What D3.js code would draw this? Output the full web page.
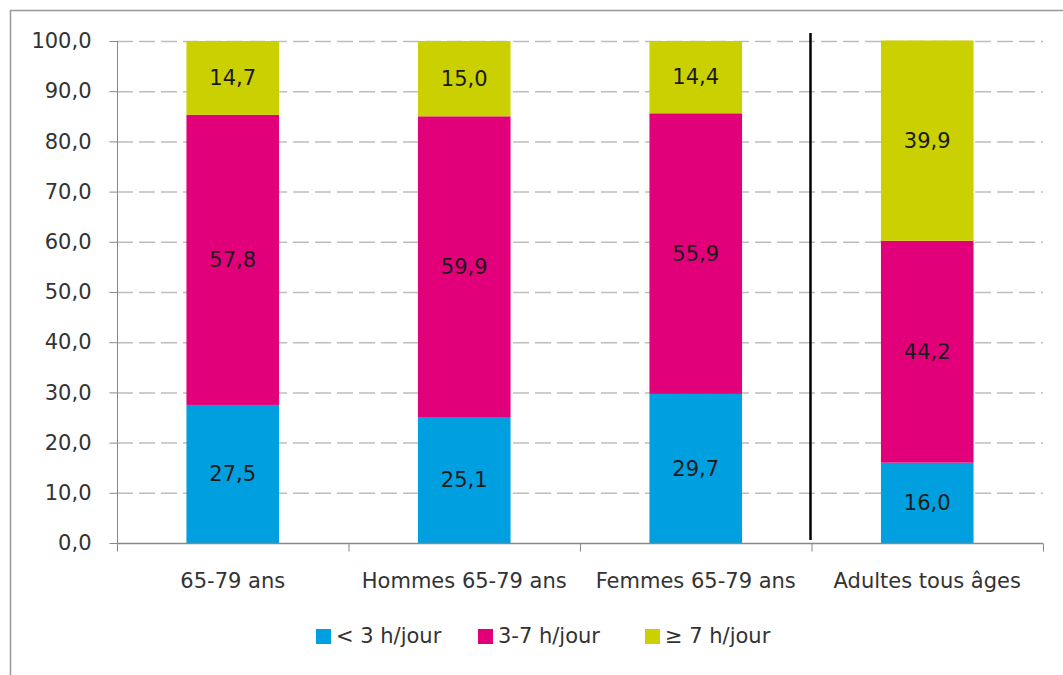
<!DOCTYPE html>
<html>
<head>
<meta charset="utf-8">
<script src="https://cdn.jsdelivr.net/npm/d3@7"></script>
<style>
  body { margin: 0; background: #fff; }
  svg text { font-family: "DejaVu Sans", sans-serif; fill: #333; }
</style>
</head>
<body>
<div id="chart"></div>
<script>
// data
let categories = ["65-79 ans", "Hommes 65-79 ans", "Femmes 65-79 ans", "Adultes tous âges"];
let seriesNames = ["< 3 h/jour", "3-7 h/jour", "≥ 7 h/jour"];
let lowValues = [27.5, 25.1, 29.7, 16.0];
let midValues = [57.8, 59.9, 55.9, 44.2];
let highValues = [14.7, 15.0, 14.4, 39.9];
let yTicks = [0, 10, 20, 30, 40, 50, 60, 70, 80, 90, 100];
let colors = ["#009fdf", "#e2007a", "#cbd000"];

let width = 1063, height = 675;
let margin = {top: 41, left: 117, right: 20, bottom: 132};
let fontSize = "21px";

let svg = d3.select("#chart").append("svg")
  .attr("width", width)
  .attr("height", height);

// outer frame (only top and left edges visible)
svg.append("path")
  .attr("d", "M10.5," + height + "V10.5H" + width)
  .attr("fill", "none")
  .attr("stroke", "#999")
  .attr("stroke-width", 1.5);

let x = d3.scaleBand().domain(categories)
  .range([margin.left, width - margin.right])
  .paddingInner(0.6).paddingOuter(0.3);
let band = d3.scaleBand().domain(categories).range([margin.left, width - margin.right]);
let y = d3.scaleLinear().domain([0, 100]).range([height - margin.bottom, margin.top]);

// dashed gridlines
svg.append("g").selectAll("line")
  .data(yTicks.filter(d => d > 0))
  .enter().append("line")
  .attr("x1", margin.left).attr("x2", width - margin.right)
  .attr("y1", d => y(d) + 0.5).attr("y2", d => y(d) + 0.5)
  .attr("stroke", "#bdbdbd")
  .attr("stroke-width", 1.5)
  .attr("stroke-dasharray", "16,6");

// stacked bars
let rows = categories.map((c, i) => ({cat: c, low: lowValues[i], mid: midValues[i], high: highValues[i]}));
let stack = d3.stack().keys(["low", "mid", "high"])(rows);

let layers = svg.append("g").selectAll("g")
  .data(stack).enter().append("g")
  .attr("fill", (d, i) => colors[i]);

layers.selectAll("rect")
  .data(d => d).enter().append("rect")
  .attr("x", d => x(d.data.cat))
  .attr("width", x.bandwidth())
  .attr("y", d => y(d[1]))
  .attr("height", d => y(d[0]) - y(d[1]));

layers.selectAll("text")
  .data(d => d).enter().append("text")
  .attr("x", d => x(d.data.cat) + x.bandwidth() / 2)
  .attr("y", d => (y(d[0]) + y(d[1])) / 2)
  .attr("dy", "0.35em")
  .attr("text-anchor", "middle")
  .style("font-size", fontSize)
  .style("fill", "#1a1a1a")
  .text(d => d3.format(".1f")(d[1] - d[0]).replace(".", ","));

// y axis
let yAxis = d3.axisLeft(y).tickValues(yTicks).tickSize(8).tickPadding(18)
  .tickFormat(d => d3.format(".1f")(d).replace(".", ","));
let gy = svg.append("g")
  .attr("transform", "translate(" + (margin.left + 0.5) + ",0)")
  .call(yAxis);
gy.select(".domain").attr("stroke", "#888").attr("d", "M0," + y(100) + "V" + y(0));
gy.selectAll(".tick line").attr("stroke", "#888");
gy.selectAll("text").style("font-size", fontSize).style("fill", "#333");

// x axis with ticks between categories
let gx = svg.append("g")
  .attr("transform", "translate(0," + (y(0) + 0.5) + ")");
gx.append("line")
  .attr("x1", margin.left).attr("x2", width - margin.right)
  .attr("stroke", "#888").attr("stroke-width", 1.5);
gx.selectAll(".sep")
  .data(categories.concat([null]))
  .enter().append("line")
  .attr("x1", (d, i) => margin.left + i * band.bandwidth() + 0.5)
  .attr("x2", (d, i) => margin.left + i * band.bandwidth() + 0.5)
  .attr("y1", 0).attr("y2", 8)
  .attr("stroke", "#888");
gx.selectAll("text")
  .data(categories).enter().append("text")
  .attr("x", d => band(d) + band.bandwidth() / 2)
  .attr("y", 44)
  .attr("text-anchor", "middle")
  .style("font-size", fontSize)
  .text(d => d);

// black separator before the last group
let sepX = band(categories[3]) - 1;
svg.append("line")
  .attr("x1", sepX).attr("x2", sepX)
  .attr("y1", y(100) - 8).attr("y2", y(0) - 3)
  .attr("stroke", "#000")
  .attr("stroke-width", 2.5);

// legend
let legendX = [316, 478, 645];
let legend = svg.append("g").selectAll("g")
  .data(seriesNames).enter().append("g")
  .attr("transform", (d, i) => "translate(" + legendX[i] + ",636)");
legend.append("rect")
  .attr("x", 0).attr("y", -7)
  .attr("width", 15).attr("height", 15)
  .attr("fill", (d, i) => colors[i]);
legend.append("text")
  .attr("x", 20).attr("dy", "0.35em")
  .style("font-size", fontSize)
  .text(d => d);
</script>
</body>
</html>
